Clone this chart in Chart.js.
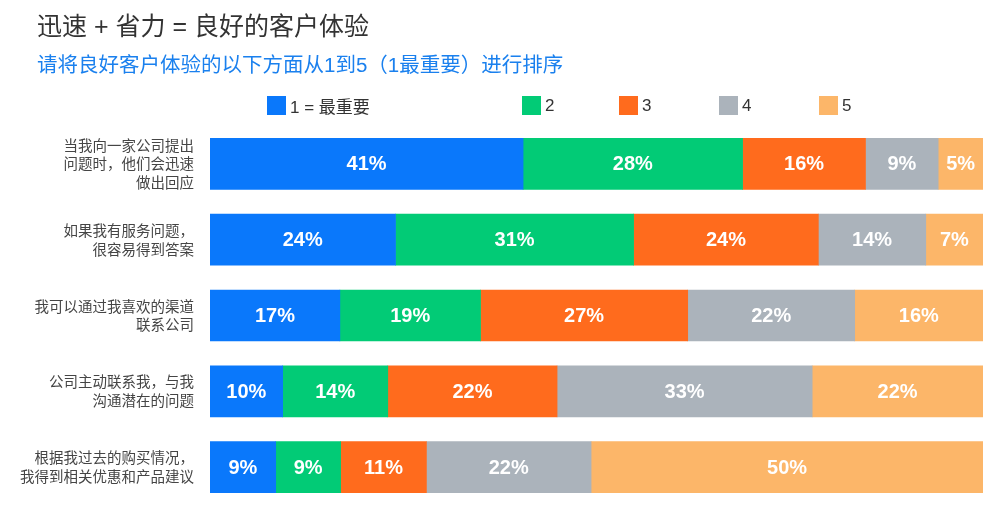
<!DOCTYPE html>
<html>
<head>
<meta charset="utf-8">
<script src="https://cdn.jsdelivr.net/npm/chart.js@4"></script>
<style>
  body { margin: 0; background: #fff; }
  #wrap { position: relative; width: 1000px; height: 520px; overflow: hidden;
          font-family: "Liberation Sans", Arial, "Noto Sans CJK SC", sans-serif; }
  #chart { position: absolute; left: 0; top: 0; }
  .title { position: absolute; left: 37px; top: 11px; font-size: 25px; line-height: 30px; color: #333; white-space: nowrap; }
  .subtitle { position: absolute; left: 37px; top: 52px; font-size: 20.5px; line-height: 26px; color: #1a80ee; white-space: nowrap; }
  .lg { position: absolute; top: 96px; height: 19px; display: flex; align-items: center; font-size: 17px; color: #333; white-space: nowrap; }
  .lg i { display: inline-block; width: 19px; height: 19px; margin-right: 4px; }
</style>
</head>
<body>
<div id="wrap">
  <canvas id="chart" width="1000" height="520"></canvas>
  <div class="title">迅速 + 省力 = 良好的客户体验</div>
  <div class="subtitle">请将良好客户体验的以下方面从1到5（1最重要）进行排序</div>
  <div id="legend"></div>
</div>
<script>
// categories (one bar each), multi-line labels
const categories = [
  ['当我向一家公司提出', '问题时，他们会迅速', '做出回应'],
  ['如果我有服务问题，', '很容易得到答案'],
  ['我可以通过我喜欢的渠道', '联系公司'],
  ['公司主动联系我，与我', '沟通潜在的问题'],
  ['根据我过去的购买情况，', '我得到相关优惠和产品建议']
];

// bar lengths per rank (%) (unrounded)
const share1 = [40.5, 24.0, 16.8, 9.4, 8.5];
const share2 = [28.4, 30.8, 18.2, 13.6, 8.4];
const share3 = [15.9, 23.9, 26.8, 21.9, 11.1];
const share4 = [9.4, 13.9, 21.6, 33.0, 21.3];
const share5 = [5.8, 7.4, 16.6, 22.1, 50.7];

// printed percentages
const pct1 = [41, 24, 17, 10, 9];
const pct2 = [28, 31, 19, 14, 9];
const pct3 = [16, 24, 27, 22, 11];
const pct4 = [9, 14, 22, 33, 22];
const pct5 = [5, 7, 16, 22, 50];

const seriesNames = ['1 = 最重要', '2', '3', '4', '5'];
const colors = ['#0a78fb', '#02cb76', '#ff6b1d', '#abb3bb', '#fcb669'];
const legendX = [267, 522, 619, 719, 819];

const shares = [share1, share2, share3, share4, share5];
const printed = [pct1, pct2, pct3, pct4, pct5];

const sel = id => document.getElementById(id);

// in-bar percentage labels
const barLabels = {
  id: 'barLabels',
  afterDatasetsDraw(chart) {
    const ctx = chart.ctx;
    ctx.save();
    ctx.fillStyle = '#fff';
    ctx.font = 'bold 20px "Liberation Sans", Arial, sans-serif';
    ctx.textAlign = 'center';
    ctx.textBaseline = 'middle';
    chart.data.datasets.forEach((ds, di) => {
      chart.getDatasetMeta(di).data.forEach((bar, i) => {
        const p = bar.getProps(['x', 'base', 'y'], true);
        ctx.fillText(ds.printed[i] + '%', (p.x + p.base) / 2, p.y + 1);
      });
    });
    ctx.restore();
  }
};

const chart = new Chart(sel('chart'), {
  type: 'bar',
  data: {
    labels: categories,
    datasets: shares.map((arr, k) => ({
      label: seriesNames[k],
      data: arr,
      printed: printed[k],
      backgroundColor: colors[k],
      borderWidth: 0,
      barThickness: 51
    }))
  },
  options: {
    indexAxis: 'y',
    responsive: false,
    animation: false,
    layout: { padding: { top: 126, bottom: 15, left: 0, right: 17 } },
    plugins: { legend: { display: false }, tooltip: { enabled: false } },
    scales: {
      x: { stacked: true, min: 0, max: 100, display: false },
      y: {
        stacked: true,
        grid: { display: false, drawTicks: false },
        border: { display: false },
        ticks: {
          color: '#454545',
          padding: 16,
          font: { size: 14.5, family: '"Noto Sans CJK SC", sans-serif', lineHeight: 1.3 }
        },
        afterFit(s) { s.width = 210; s.paddingTop = 0; s.paddingBottom = 0; }
      }
    }
  },
  plugins: [barLabels]
});

// legend built from the chart datasets
const lg = sel('legend');
chart.data.datasets.forEach((ds, k) => {
  lg.innerHTML += `<div class="lg" style="left:${legendX[k]}px"><i style="background:${ds.backgroundColor}"></i>${ds.label}</div>`;
});
</script>
</body>
</html>
